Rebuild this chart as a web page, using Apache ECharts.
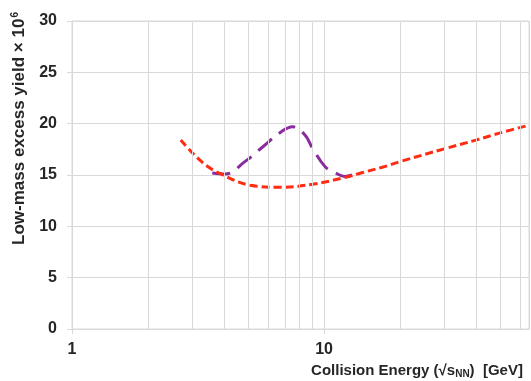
<!DOCTYPE html>
<html>
<head>
<meta charset="utf-8">
<script src="https://cdn.jsdelivr.net/npm/echarts@6/dist/echarts.min.js"></script>
<style>
  html, body { margin: 0; padding: 0; background: #fff; }
  #chart { width: 531px; height: 381px; }
</style>
</head>
<body>
<div id="chart"></div>
<script>
// Collision energy (GeV) and low-mass excess yield (x 10^6)
const baselineEnergy = [2.7, 3.3, 3.9, 5.1, 6.7, 9.0, 12.3, 14.0, 17, 20, 30, 40, 50, 65];
const baselineYield  = [18.4, 16.2, 15.1, 14.0, 13.8, 14.1, 14.8, 15.2, 15.75, 16.3, 17.55, 18.4, 19.1, 19.85];

const bumpEnergy = [3.6, 4.05, 4.85, 5.75, 6.75, 7.5, 8.4, 9.0, 10.1, 11.1, 12.1, 12.9];
const bumpYield  = [15.2, 15.1, 16.3, 17.8, 19.2, 19.7, 18.9, 17.6, 15.8, 15.2, 14.85, 15.0];

// Minor vertical grid positions on the log axis
const minorGridValues = [2, 3, 4, 5, 6, 7, 8, 9, 20, 30, 40, 50, 60];

const yTicks = { min: 0, max: 30, interval: 5 };

const textColor = '#262626';
const gridColor = '#d9d9d9';
const font = 'Liberation Sans, Arial, sans-serif';

const pair = (xs, ys) => xs.map((x, i) => [x, ys[i]]);

const chart = echarts.init(document.getElementById('chart'), null, { renderer: 'canvas' });
chart.setOption({
  animation: false,
  backgroundColor: '#ffffff',
  grid: {
    left: 72, right: 2, top: 21, bottom: 52,
    outerBoundsMode: 'none',
    containLabel: false,
    show: true, borderColor: gridColor, borderWidth: 1
  },
  xAxis: {
    type: 'log',
    logBase: 10,
    min: 1,
    max: 65,
    name: '{t|Collision Energy (√s}{sub|NN}{t|)  [GeV]}',
    nameLocation: 'middle',
    nameGap: 31,
    nameTextStyle: {
      padding: [0, 0, 0, 233],
      rich: {
        t: { fontFamily: font, fontSize: 15, fontWeight: 'bold', color: textColor, lineHeight: 18 },
        sub: { fontFamily: font, fontSize: 10, fontWeight: 'bold', color: textColor, verticalAlign: 'bottom', padding: [6, 0, 0, 0], lineHeight: 18 }
      }
    },
    axisLine: { show: true, lineStyle: { color: gridColor, width: 1 } },
    axisTick: { show: true, length: 5, lineStyle: { color: gridColor } },
    axisLabel: { color: textColor, fontFamily: font, fontSize: 16, fontWeight: 'bold', margin: 13, showMaxLabel: false },
    splitLine: { show: true, lineStyle: { color: gridColor, width: 1 } }
  },
  yAxis: {
    type: 'value',
    min: yTicks.min,
    max: yTicks.max,
    interval: yTicks.interval,
    name: '{t|Low-mass excess yield × 10}{sup|6}',
    nameLocation: 'middle',
    nameGap: 42,
    nameTextStyle: {
      padding: [0, 0, 0, 93],
      rich: {
        t: { fontFamily: font, fontSize: 17, fontWeight: 'bold', color: textColor, lineHeight: 20 },
        sup: { fontFamily: font, fontSize: 10, fontWeight: 'bold', color: textColor, verticalAlign: 'top', padding: [0, 0, 7, 1], lineHeight: 20 }
      }
    },
    axisLine: { show: true, lineStyle: { color: gridColor, width: 1 } },
    axisTick: { show: true, length: 5, lineStyle: { color: gridColor } },
    axisLabel: { color: textColor, fontFamily: font, fontSize: 16, fontWeight: 'bold', margin: 15 },
    splitLine: { show: true, lineStyle: { color: gridColor, width: 1 } }
  },
  series: [
    {
      name: 'minor grid',
      type: 'line',
      data: [],
      silent: true,
      markLine: {
        silent: true,
        symbol: ['none', 'none'],
        label: { show: false },
        lineStyle: { color: gridColor, width: 1, type: 'solid' },
        data: minorGridValues.map(v => ({ xAxis: v }))
      }
    },
    {
      name: 'bump',
      type: 'line',
      smooth: 0.4,
      showSymbol: false,
      data: pair(bumpEnergy, bumpYield),
      lineStyle: { color: '#8a2b9e', width: 3, type: [18, 9] }
    },
    {
      name: 'baseline',
      type: 'line',
      smooth: 0.4,
      showSymbol: false,
      data: pair(baselineEnergy, baselineYield),
      lineStyle: { color: '#ff2b12', width: 3, type: [8, 4] }
    }
  ]
});
</script>
</body>
</html>
